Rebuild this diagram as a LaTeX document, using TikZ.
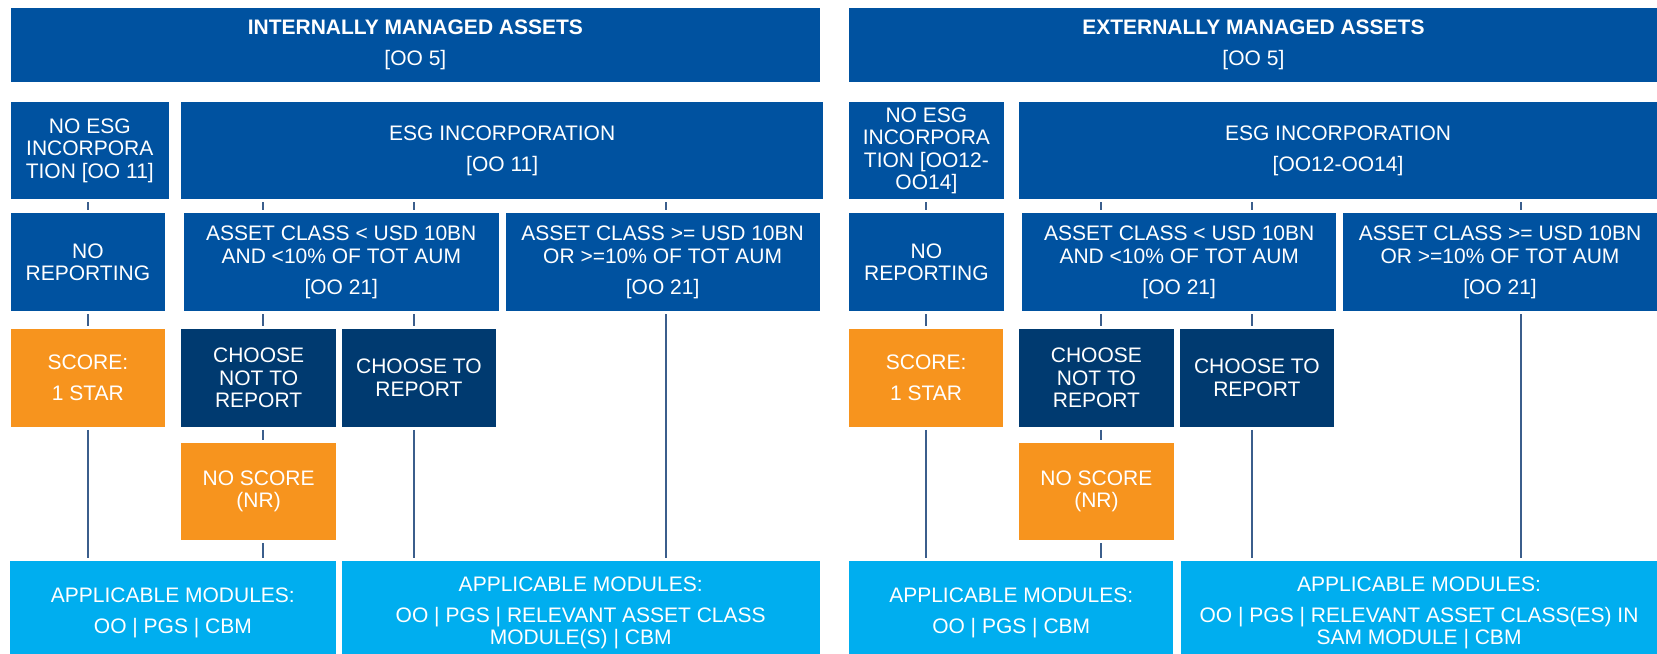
\documentclass[tikz,border=0pt]{standalone}
\usepackage{fontspec}
\setmainfont{Liberation Sans}
\usepackage{xcolor}
\usepackage{tikz}
\definecolor{priblue}{RGB}{0,82,160}
\definecolor{prinavy}{RGB}{0,58,112}
\definecolor{priorange}{RGB}{247,148,30}
\definecolor{pricyan}{RGB}{0,174,239}
\definecolor{priline}{RGB}{59,94,140}
\tikzstyle{block} = [rectangle, fill=priblue, text=white, align=center, inner sep=0pt, outer sep=0pt]
\tikzstyle{choice} = [block, fill=prinavy]
\tikzstyle{score} = [block, fill=priorange]
\tikzstyle{modules} = [block, fill=pricyan]
\tikzstyle{line} = [draw=priline, line width=0.75pt, shorten <=1.5pt, shorten >=1.5pt]

\begin{document}
\begin{tikzpicture}[x=0.5pt, y=-0.5pt, font=\fontsize{10.5}{11.25}\selectfont]
\useasboundingbox (0,0) rectangle (1657,653);
\clip (0,0) rectangle (1657,653);
% internally managed
\node [block, minimum width=404.7pt, minimum height=37pt] (head-int) at (415.4,45) {\textbf{INTERNALLY MANAGED ASSETS}\\[4.25pt][OO 5]};
\node [block, minimum width=78.8pt, minimum height=48.7pt] (no-esg-int) at (89.8,150.7) {NO ESG\\INCORPORA\\TION [OO 11]};
\node [block, minimum width=320.8pt, minimum height=48.7pt] (esg-int) at (502.2,150.7) {ESG INCORPORATION\\[4.25pt][OO 11]};
\node [block, minimum width=77.2pt, minimum height=48.9pt] (no-report-int) at (87.9,262.2) {NO\\REPORTING};
\node [block, minimum width=157.3pt, minimum height=48.9pt] (small-int) at (341.3,262.2) {ASSET CLASS < USD 10BN\\AND <10\% OF TOT AUM\\[4.25pt][OO 21]};
\node [block, minimum width=157.1pt, minimum height=48.9pt] (big-int) at (662.6,262.2) {ASSET CLASS >= USD 10BN\\OR >=10\% OF TOT AUM\\[4.25pt][OO 21]};
\node [score, minimum width=77.2pt, minimum height=48.9pt] (score-int) at (87.9,377.9) {SCORE:\\[4.25pt]1 STAR};
\node [choice, minimum width=77.2pt, minimum height=48.9pt] (not-int) at (258.6,377.9) {CHOOSE\\NOT TO\\REPORT};
\node [choice, minimum width=77.1pt, minimum height=48.9pt] (to-int) at (418.9,377.9) {CHOOSE TO\\REPORT};
\node [score, minimum width=77.2pt, minimum height=48.7pt] (no-score-int) at (258.6,491.4) {NO SCORE\\(NR)};
\node [modules, minimum width=162.9pt, minimum height=52pt] (app-int) at (172.9,612.7) {APPLICABLE MODULES:\\[4.25pt]OO | PGS | CBM};
\node [modules, minimum width=239.1pt, minimum height=52pt] (app-rel-int) at (580.7,612.7) {APPLICABLE MODULES:\\[4.25pt]OO | PGS | RELEVANT ASSET CLASS\\MODULE(S) | CBM};
% externally managed
\node [block, minimum width=404.4pt, minimum height=37pt] (head-ext) at (1253.4,45) {\textbf{EXTERNALLY MANAGED ASSETS}\\[4.25pt][OO 5]};
\node [block, minimum width=77.4pt, minimum height=48.7pt] (no-esg-ext) at (926.4,150.7) {NO ESG\\INCORPORA\\TION [OO12-\\OO14]};
\node [block, minimum width=319pt, minimum height=48.7pt] (esg-ext) at (1338,150.7) {ESG INCORPORATION\\[4.25pt][OO12-OO14]};
\node [block, minimum width=77.4pt, minimum height=48.9pt] (no-report-ext) at (926.4,262.2) {NO\\REPORTING};
\node [block, minimum width=157.2pt, minimum height=48.9pt] (small-ext) at (1179.2,262.2) {ASSET CLASS < USD 10BN\\AND <10\% OF TOT AUM\\[4.25pt][OO 21]};
\node [block, minimum width=157pt, minimum height=48.9pt] (big-ext) at (1500,262.2) {ASSET CLASS >= USD 10BN\\OR >=10\% OF TOT AUM\\[4.25pt][OO 21]};
\node [score, minimum width=77.1pt, minimum height=48.9pt] (score-ext) at (926.1,377.9) {SCORE:\\[4.25pt]1 STAR};
\node [choice, minimum width=77.1pt, minimum height=48.9pt] (not-ext) at (1096.4,377.9) {CHOOSE\\NOT TO\\REPORT};
\node [choice, minimum width=77.1pt, minimum height=48.9pt] (to-ext) at (1256.8,377.9) {CHOOSE TO\\REPORT};
\node [score, minimum width=77.1pt, minimum height=48.7pt] (no-score-ext) at (1096.4,491.4) {NO SCORE\\(NR)};
\node [modules, minimum width=162.2pt, minimum height=52pt] (app-ext) at (1011.2,612.7) {APPLICABLE MODULES:\\[4.25pt]OO | PGS | CBM};
\node [modules, minimum width=238pt, minimum height=52pt] (app-rel-ext) at (1419,612.7) {APPLICABLE MODULES:\\[4.25pt]OO | PGS | RELEVANT ASSET CLASS(ES) IN\\SAM MODULE | CBM};
% columns of the connectors
\coordinate (col-a-int) at (88,0);
\coordinate (col-b-int) at (263,0);
\coordinate (col-c-int) at (414,0);
\coordinate (col-d-int) at (666,0);
\coordinate (col-a-ext) at (926,0);
\coordinate (col-b-ext) at (1101,0);
\coordinate (col-c-ext) at (1252,0);
\coordinate (col-d-ext) at (1521,0);
\path [line] (no-esg-int.south -| col-a-int) -- (no-report-int.north -| col-a-int);
\path [line] (no-report-int.south -| col-a-int) -- (score-int.north -| col-a-int);
\path [line] (score-int.south -| col-a-int) -- (app-int.north -| col-a-int);
\path [line] (esg-int.south -| col-b-int) -- (small-int.north -| col-b-int);
\path [line] (small-int.south -| col-b-int) -- (not-int.north -| col-b-int);
\path [line] (not-int.south -| col-b-int) -- (no-score-int.north -| col-b-int);
\path [line] (no-score-int.south -| col-b-int) -- (app-int.north -| col-b-int);
\path [line] (esg-int.south -| col-c-int) -- (small-int.north -| col-c-int);
\path [line] (small-int.south -| col-c-int) -- (to-int.north -| col-c-int);
\path [line] (to-int.south -| col-c-int) -- (app-rel-int.north -| col-c-int);
\path [line] (esg-int.south -| col-d-int) -- (big-int.north -| col-d-int);
\path [line] (big-int.south -| col-d-int) -- (app-rel-int.north -| col-d-int);
\path [line] (no-esg-ext.south -| col-a-ext) -- (no-report-ext.north -| col-a-ext);
\path [line] (no-report-ext.south -| col-a-ext) -- (score-ext.north -| col-a-ext);
\path [line] (score-ext.south -| col-a-ext) -- (app-ext.north -| col-a-ext);
\path [line] (esg-ext.south -| col-b-ext) -- (small-ext.north -| col-b-ext);
\path [line] (small-ext.south -| col-b-ext) -- (not-ext.north -| col-b-ext);
\path [line] (not-ext.south -| col-b-ext) -- (no-score-ext.north -| col-b-ext);
\path [line] (no-score-ext.south -| col-b-ext) -- (app-ext.north -| col-b-ext);
\path [line] (esg-ext.south -| col-c-ext) -- (small-ext.north -| col-c-ext);
\path [line] (small-ext.south -| col-c-ext) -- (to-ext.north -| col-c-ext);
\path [line] (to-ext.south -| col-c-ext) -- (app-rel-ext.north -| col-c-ext);
\path [line] (esg-ext.south -| col-d-ext) -- (big-ext.north -| col-d-ext);
\path [line] (big-ext.south -| col-d-ext) -- (app-rel-ext.north -| col-d-ext);
\end{tikzpicture}
\end{document}
